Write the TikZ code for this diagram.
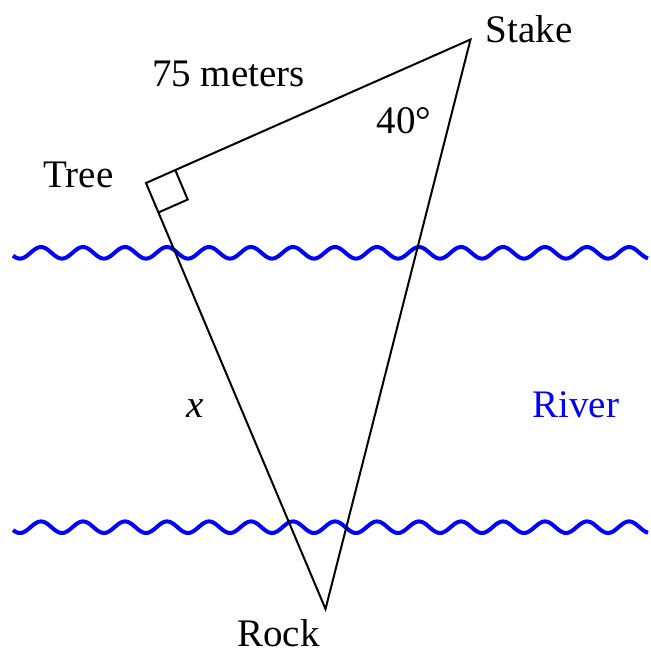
\documentclass[tikz,border=0pt]{standalone}
\usepackage{fontspec}
\setmainfont{Liberation Serif}
\usepackage{xcolor}
\usetikzlibrary{calc}

\begin{document}
\begin{tikzpicture}[x=0.5pt, y=-0.5pt,
    lbl/.style={inner sep=0pt, anchor=base, font=\fontsize{19.5}{23}\selectfont},
    river/.style={blue, line width=2pt, line join=round}]
  \useasboundingbox (0,0) rectangle (651,650);

  \coordinate (tree)  at (146,183);
  \coordinate (stake) at (470.5,39.5);
  \coordinate (rock)  at (325.5,609);

  % river banks
  \draw[river] plot[domain=13:648, samples=320] (\x, {252.8-5.8*cos(8.5714*(\x-41))});
  \draw[river] plot[domain=13:648, samples=320] (\x, {527.2-5.8*cos(8.5714*(\x-41))});

  % triangle
  \draw[line width=1pt, line join=miter] (tree) -- (stake) -- (rock) -- cycle;

  % right angle at the tree
  \coordinate (ra1) at ($(tree)!16pt!(stake)$);
  \coordinate (ra2) at ($(tree)!16pt!(rock)$);
  \draw[line width=1pt] (ra1) -- ($(ra1)+(ra2)-(tree)$) -- (ra2);

  \node[lbl] (lenlbl)   at (228.4,86.7)  {75 meters};
  \node[lbl] (treelbl)  at (78.5,187.3)  {Tree};
  \node[lbl] (stakelbl) at (529,42.7)    {Stake};
  \node[lbl] (anglbl)   at (403.9,133.3) {40°};
  \node[lbl] (xlbl)     at (195.3,417.7) {\textit{x}};
  \node[lbl, blue] (riverlbl) at (575.9,417.3) {River};
  \node[lbl] (rocklbl)  at (278.5,646.5) {Rock};
\end{tikzpicture}
\end{document}
